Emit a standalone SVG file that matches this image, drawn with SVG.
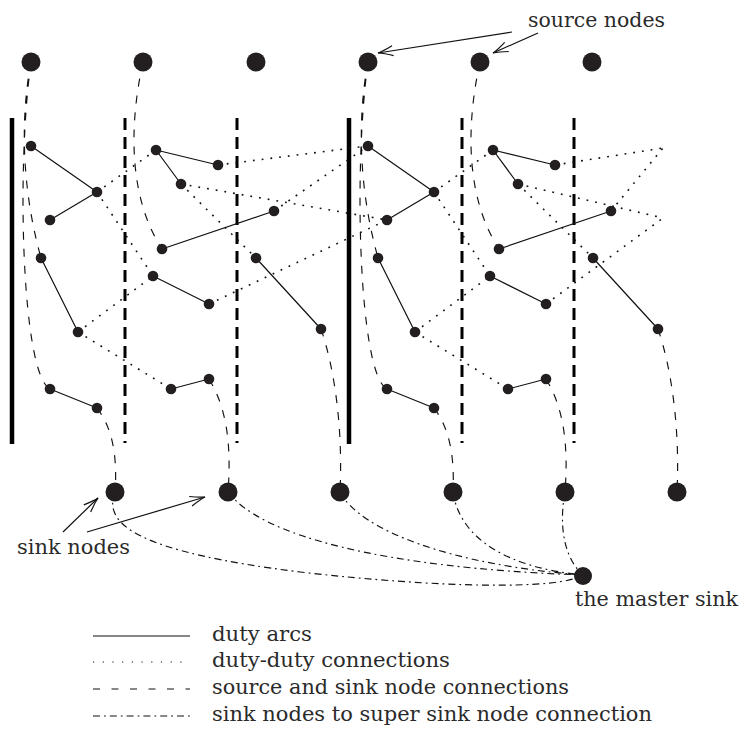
<svg xmlns="http://www.w3.org/2000/svg" width="742" height="737" viewBox="0 0 742 737">
<style>
.big{fill:#231f20}
.sm{fill:#231f20}
.arc{stroke:#111;stroke-width:1.2;fill:none}
.dot{stroke:#111;stroke-width:1.6;fill:none;stroke-dasharray:1.8 7}
.dash{stroke:#111;stroke-width:1.15;fill:none;stroke-dasharray:8 9}
.dd{stroke:#111;stroke-width:1.15;fill:none;stroke-dasharray:7 4 1.8 4}
.bar{stroke:#000;stroke-width:4.5}
.vbar{stroke:#000;stroke-width:3;stroke-dasharray:12 7}
.ptr{stroke:#111;stroke-width:1.2;fill:none;marker-end:url(#ah)}
text{font-family:"DejaVu Serif","Liberation Serif",serif;font-size:20px;fill:#2a2a2a}
</style>
<defs>
<marker id="ah" markerUnits="userSpaceOnUse" markerWidth="20" markerHeight="14" refX="0" refY="0" viewBox="-17 -7 20 14" orient="auto">
<path d="M-15,-5 Q-6,-1.2 0,0 Q-6,1.2 -15,5" fill="none" stroke="#111" stroke-width="1.2"/>
</marker>
</defs>

<g id="bars">
<line class="bar" x1="12" y1="118" x2="12" y2="444"/>
<line class="bar" x1="349" y1="118" x2="349" y2="444"/>
<line class="vbar" x1="125" y1="118" x2="125" y2="443"/>
<line class="vbar" x1="237" y1="118" x2="237" y2="443"/>
<line class="vbar" x1="462" y1="118" x2="462" y2="443"/>
<line class="vbar" x1="574" y1="118" x2="574" y2="443"/>
</g>

<g id="connectors">
<path class="arc" d="M31,146L97,192M50,220L97,192M156,150L218,165M156,150L181,184M162,249L274,211M41,258L78,332M153,276L209,304M256,258L321,329M50,389L97,408M171,389L209,379"/>
<path class="arc" d="M368,146L434,192M387,220L434,192M493,150L555,165M493,150L518,184M499,249L611,211M378,258L415,332M490,276L546,304M593,258L658,329M387,389L434,408M508,389L546,379"/>
<path class="dot" d="M97,192L156,150M97,192L153,276M78,332L153,276M78,332L171,389M181,184L256,258M218,165L368,146M274,211L368,146M181,184L387,220M209,304L387,220"/>
<path class="dot" d="M434,192L493,150M434,192L490,276M415,332L490,276M415,332L508,389M518,184L593,258M555,165L663,148M611,211L663,148M518,184L663,218M546,304L663,218"/>
<path class="dash" d="M31,62C20,120 22,190 41,258M31,62C16,170 22,375 50,389M143,62C128,130 130,200 162,249"/>
<path class="dash" d="M368,62C357,120 359,190 378,258M368,62C353,170 359,375 387,389M480,62C465,130 467,200 499,249"/>
<path class="dash" d="M97,408C110,425 118,450 115,492M209,379C225,405 232,440 228,492M321,329C335,370 343,430 340,492"/>
<path class="dash" d="M434,408C447,425 455,450 453,492M546,379C562,405 569,440 565,492M658,329C672,370 680,430 677,492"/>
<path class="dd" d="M115,492C102,525 140,552 300,572C440,588 560,590 583,575"/>
<path class="dd" d="M228,492C260,535 380,568 583,575"/>
<path class="dd" d="M340,492C360,530 450,565 583,575"/>
<path class="dd" d="M453,492C460,540 510,568 583,575"/>
<path class="dd" d="M565,492C558,530 566,560 583,575"/>
<path class="ptr" d="M512,32L378,53"/>
<path class="ptr" d="M538,33L493,53"/>
<path class="ptr" d="M63,532L98,498"/>
<path class="ptr" d="M87,532L205,497"/>
</g>

<g id="src1"><circle class="big" cx="31" cy="62" r="9.5"/></g>
<g id="src2"><circle class="big" cx="143" cy="62" r="9.5"/></g>
<g id="src3"><circle class="big" cx="256" cy="62" r="9.5"/></g>
<g id="src4"><circle class="big" cx="368" cy="62" r="9.5"/></g>
<g id="src5"><circle class="big" cx="480" cy="62" r="9.5"/></g>
<g id="src6"><circle class="big" cx="592" cy="62" r="9.5"/></g>

<g id="sink1"><circle class="big" cx="115" cy="492" r="9.5"/></g>
<g id="sink2"><circle class="big" cx="228" cy="492" r="9.5"/></g>
<g id="sink3"><circle class="big" cx="340" cy="492" r="9.5"/></g>
<g id="sink4"><circle class="big" cx="453" cy="492" r="9.5"/></g>
<g id="sink5"><circle class="big" cx="565" cy="492" r="9.5"/></g>
<g id="sink6"><circle class="big" cx="677" cy="492" r="9.5"/></g>
<g id="master"><circle class="big" cx="583" cy="576" r="9"/></g>

<g id="dA1"><circle class="sm" cx="31" cy="146" r="5.3"/></g>
<g id="dA2"><circle class="sm" cx="97" cy="192" r="5.3"/></g>
<g id="dA3"><circle class="sm" cx="50" cy="220" r="5.3"/></g>
<g id="dB1"><circle class="sm" cx="156" cy="150" r="5.3"/></g>
<g id="dB2"><circle class="sm" cx="218" cy="165" r="5.3"/></g>
<g id="dB3"><circle class="sm" cx="181" cy="184" r="5.3"/></g>
<g id="dD1"><circle class="sm" cx="162" cy="249" r="5.3"/></g>
<g id="dC1"><circle class="sm" cx="274" cy="211" r="5.3"/></g>
<g id="dE1"><circle class="sm" cx="41" cy="258" r="5.3"/></g>
<g id="dE2"><circle class="sm" cx="78" cy="332" r="5.3"/></g>
<g id="dF1"><circle class="sm" cx="153" cy="276" r="5.3"/></g>
<g id="dF2"><circle class="sm" cx="209" cy="304" r="5.3"/></g>
<g id="dG1"><circle class="sm" cx="256" cy="258" r="5.3"/></g>
<g id="dG2"><circle class="sm" cx="321" cy="329" r="5.3"/></g>
<g id="dH1"><circle class="sm" cx="50" cy="389" r="5.3"/></g>
<g id="dH2"><circle class="sm" cx="97" cy="408" r="5.3"/></g>
<g id="dI1"><circle class="sm" cx="171" cy="389" r="5.3"/></g>
<g id="dI2"><circle class="sm" cx="209" cy="379" r="5.3"/></g>

<g id="eA1"><circle class="sm" cx="368" cy="146" r="5.3"/></g>
<g id="eA2"><circle class="sm" cx="434" cy="192" r="5.3"/></g>
<g id="eA3"><circle class="sm" cx="387" cy="220" r="5.3"/></g>
<g id="eB1"><circle class="sm" cx="493" cy="150" r="5.3"/></g>
<g id="eB2"><circle class="sm" cx="555" cy="165" r="5.3"/></g>
<g id="eB3"><circle class="sm" cx="518" cy="184" r="5.3"/></g>
<g id="eD1"><circle class="sm" cx="499" cy="249" r="5.3"/></g>
<g id="eC1"><circle class="sm" cx="611" cy="211" r="5.3"/></g>
<g id="eE1"><circle class="sm" cx="378" cy="258" r="5.3"/></g>
<g id="eE2"><circle class="sm" cx="415" cy="332" r="5.3"/></g>
<g id="eF1"><circle class="sm" cx="490" cy="276" r="5.3"/></g>
<g id="eF2"><circle class="sm" cx="546" cy="304" r="5.3"/></g>
<g id="eG1"><circle class="sm" cx="593" cy="258" r="5.3"/></g>
<g id="eG2"><circle class="sm" cx="658" cy="329" r="5.3"/></g>
<g id="eH1"><circle class="sm" cx="387" cy="389" r="5.3"/></g>
<g id="eH2"><circle class="sm" cx="434" cy="408" r="5.3"/></g>
<g id="eI1"><circle class="sm" cx="508" cy="389" r="5.3"/></g>
<g id="eI2"><circle class="sm" cx="546" cy="379" r="5.3"/></g>

<g id="labels">
<text x="528" y="27" textLength="137" lengthAdjust="spacingAndGlyphs">source nodes</text>
<text x="17" y="554" textLength="113" lengthAdjust="spacingAndGlyphs">sink nodes</text>
<text x="575" y="606" textLength="163" lengthAdjust="spacingAndGlyphs">the master sink</text>
</g>

<g id="legend">
<line class="arc" x1="93" y1="636" x2="190" y2="636"/>
<line class="dot" x1="93" y1="662" x2="190" y2="662" style="stroke-dasharray:1.2 8.5;stroke-width:1.1"/>
<line class="dash" x1="93" y1="689" x2="190" y2="689" style="stroke-dasharray:7 11.5"/>
<line class="dd" x1="93" y1="716" x2="190" y2="716"/>
<text x="212" y="641" textLength="100" lengthAdjust="spacingAndGlyphs">duty arcs</text>
<text x="212" y="667" textLength="238" lengthAdjust="spacingAndGlyphs">duty-duty connections</text>
<text x="212" y="694" textLength="357" lengthAdjust="spacingAndGlyphs">source and sink node connections</text>
<text x="212" y="721" textLength="440" lengthAdjust="spacingAndGlyphs">sink nodes to super sink node connection</text>
</g>
</svg>
